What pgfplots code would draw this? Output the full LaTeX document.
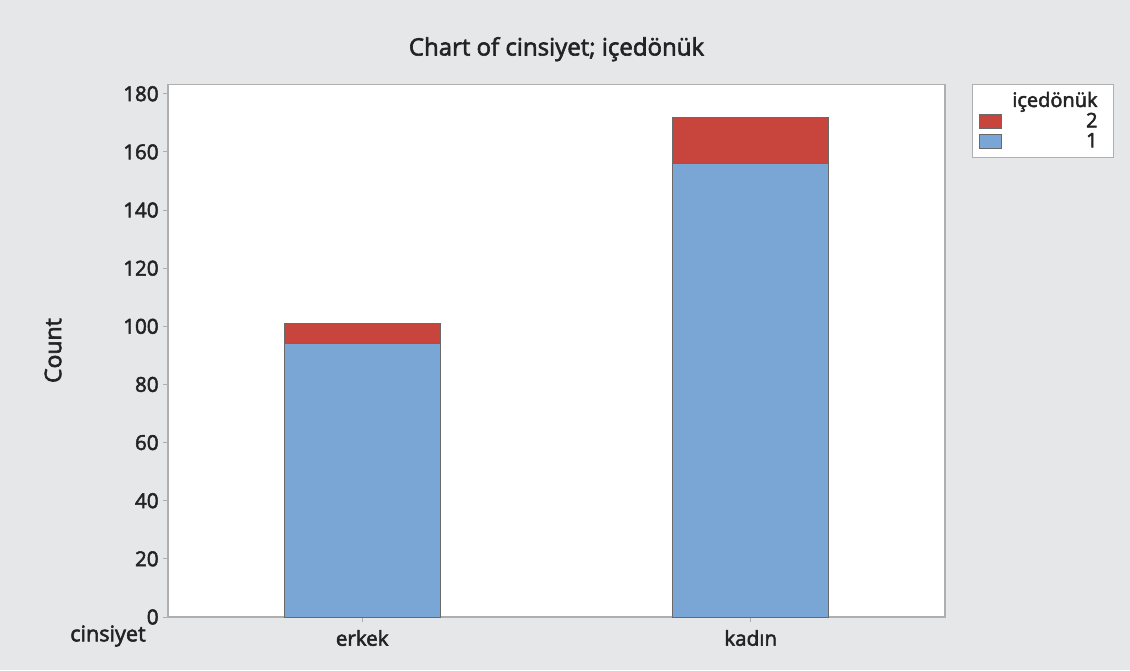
\documentclass[border=0pt]{standalone}
\usepackage{pgfplots}
\pgfplotsset{compat=1.18}
\usepackage{fontspec}
\setmainfont{Open Sans}[FakeBold=2.5]
\definecolor{bg}{RGB}{230,231,232}
\definecolor{barblue}{RGB}{122,166,214}
\definecolor{barred}{RGB}{200,69,62}
\definecolor{edge}{RGB}{105,105,105}
\definecolor{frame}{RGB}{175,175,175}
\definecolor{ink}{RGB}{35,35,35}
\begin{document}
\begin{tikzpicture}
% grey page behind the chart, 1px = 0.5pt
\fill[bg] (-84pt,-26.5pt) rectangle (481pt,308.5pt);
\begin{axis}[
    scale only axis,
    width=388.5pt, height=266.4pt,
    ybar stacked,
    bar width=78pt,
    xmin=-0.5, xmax=1.5,
    ymin=0, ymax=183.3,
    xtick={0,1},
    xticklabels={erkek,kadın},
    ytick={0,20,...,180},
    xtick pos=bottom, ytick pos=left,
    tick align=outside,
    major tick length=2.5pt,
    tick style={frame, line width=0.5pt},
    axis line style={frame, line width=0.6pt},
    axis background/.style={fill=white},
    /pgf/number format/assume math mode=true,
    ticklabel style={font=\fontsize{10.3}{12}\selectfont, text=ink},
    yticklabel style={inner xsep=2pt},
    xticklabel style={yshift=-0.5pt},
    title={Chart of cinsiyet; içedönük},
    title style={at={(0.5,1)}, anchor=center, yshift=11.5pt,
                 font=\fontsize{12}{14}\selectfont, text=ink},
    ylabel={Count},
    every axis y label/.style={at={(axis description cs:0,0.5)},
                 xshift=-57.5pt, rotate=90, anchor=center,
                 font=\fontsize{11.5}{13}\selectfont, text=ink},
    legend style={at={(rel axis cs:1.0347,1)}, anchor=north west,
                  draw=frame, fill=white,
                  font=\fontsize{10}{10}\selectfont, text=ink,
                  inner xsep=3.2pt, inner ysep=1.6pt,
                  row sep=-2.6pt,
                  /tikz/every odd column/.append style={column sep=3.4pt}},
    legend cell align=right,
    reverse legend,
    legend image code/.code={\draw[#1, draw=edge, line width=0.4pt]
                 (0pt,-3.5pt) rectangle (11pt,3.5pt);},
    clip=false,
]
\addplot[fill=barblue, draw=edge, line width=0.5pt]
    coordinates {(0,94) (1,156)};
\addlegendentry{1\kern2.5pt}
\addplot[fill=barred, draw=edge, line width=0.5pt]
    coordinates {(0,7) (1,16)};
\addlegendentry{2\kern2.5pt}
\addlegendimage{empty legend}
\addlegendentry{içedönük\kern2.5pt}
\node[font=\fontsize{10.8}{12}\selectfont, text=ink]
    at (rel axis cs:0,0) [xshift=-30pt, yshift=-9.5pt] {cinsiyet};
\end{axis}
\end{tikzpicture}
\end{document}
